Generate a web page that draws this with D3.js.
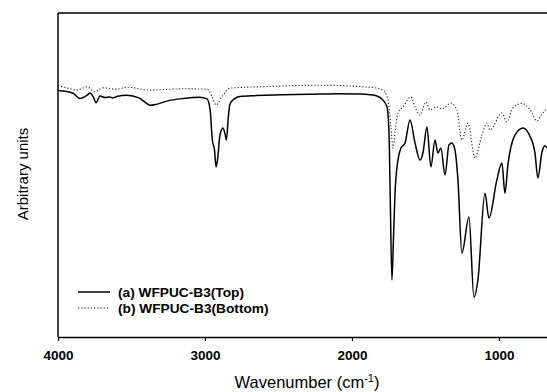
<!DOCTYPE html>
<html>
<head>
<meta charset="utf-8">
<script src="https://cdn.jsdelivr.net/npm/d3@7"></script>
<style>
  html, body { margin: 0; padding: 0; background: #fff; }
  svg { display: block; font-family: "Liberation Sans", Arial, sans-serif; }
</style>
</head>
<body>
<svg id="chart" width="547" height="392"></svg>
<script>
// FTIR spectra, wavenumber (cm-1) vs. arbitrary transmittance units
const topWavenumbers = [4000, 3900, 3850, 3800, 3782, 3760, 3741, 3714, 3680, 3650, 3626, 3600, 3531, 3450, 3400, 3374, 3330, 3259, 3150, 3034, 2986, 2965, 2950, 2935, 2925, 2915, 2898, 2878, 2862, 2855, 2840, 2830, 2800, 2762, 2650, 2490, 2300, 2100, 1950, 1878, 1830, 1789, 1762, 1748, 1740, 1728, 1718, 1707, 1687, 1667, 1639, 1605, 1571, 1537, 1517, 1490, 1463, 1435, 1415, 1395, 1367, 1340, 1320, 1299, 1279, 1252, 1204, 1170, 1143, 1095, 1068, 1014, 980, 959, 939, 891, 837, 789, 755, 735, 707, 687, 673];
const topValues = [76.1, 75.3, 73.6, 74.7, 75.3, 74.1, 72.3, 74.4, 73.9, 74.1, 73.8, 74.2, 74.6, 73.8, 72.2, 71.5, 71.8, 72.8, 73.6, 74.0, 73.5, 70.1, 60.8, 57.7, 52.5, 54.6, 62.3, 64.5, 62.3, 60.8, 68.5, 71.9, 73.5, 74.2, 74.5, 74.8, 74.9, 75.1, 75.0, 74.8, 74.4, 73.1, 71.1, 63.0, 44.4, 17.6, 29.9, 44.4, 54.6, 58.3, 59.9, 67.0, 59.9, 54.6, 56.8, 64.8, 52.5, 60.8, 56.8, 58.3, 50.0, 59.3, 59.9, 57.7, 48.5, 25.9, 37.0, 12.3, 17.6, 44.4, 36.7, 48.5, 53.7, 44.4, 53.1, 62.3, 64.5, 62.0, 56.8, 49.1, 57.1, 59.0, 58.3];

const bottomWavenumbers = [4000, 3939, 3871, 3803, 3748, 3694, 3599, 3531, 3374, 3150, 2986, 2952, 2925, 2884, 2830, 2578, 2218, 1878, 1789, 1755, 1735, 1721, 1707, 1687, 1653, 1599, 1571, 1537, 1497, 1469, 1422, 1388, 1327, 1286, 1252, 1211, 1163, 1116, 1082, 1061, 980, 946, 905, 844, 789, 741, 707, 673];
const bottomValues = [77.6, 76.9, 76.2, 77.2, 75.7, 76.9, 76.5, 77.1, 76.2, 76.6, 76.5, 74.2, 71.6, 74.2, 76.8, 77.3, 77.7, 77.1, 76.2, 73.1, 64.8, 58.3, 63.0, 69.1, 71.0, 74.1, 71.0, 68.5, 72.5, 70.1, 71.0, 70.4, 72.2, 70.1, 60.8, 66.0, 55.2, 62.3, 66.0, 63.9, 69.1, 66.4, 70.7, 72.1, 70.2, 66.7, 68.8, 70.7];

const xTicks = [4000, 3000, 2000, 1000];
const seriesNames = ["(a) WFPUC-B3(Top)", "(b) WFPUC-B3(Bottom)"];

const svg = d3.select("#chart");
const plotLeft = 58, plotRight = 547, plotTop = 13, plotBottom = 337;

const x = d3.scaleLinear().domain([4000, 673]).range([plotLeft, plotRight]);
const y = d3.scaleLinear().domain([0, 100]).range([plotBottom, plotTop]);

const line = d3.line()
  .x(d => x(d[0]))
  .y(d => y(d[1]))
  .curve(d3.curveMonotoneX);

const topSeries = topWavenumbers.map((w, i) => [w, topValues[i]]);
const bottomSeries = bottomWavenumbers.map((w, i) => [w, bottomValues[i]]);

// frame: top border and left axis line
svg.append("line")
  .attr("x1", plotLeft).attr("x2", plotRight).attr("y1", plotTop).attr("y2", plotTop)
  .attr("stroke", "#000").attr("stroke-width", 1.5);
svg.append("line")
  .attr("x1", plotLeft).attr("x2", plotLeft).attr("y1", plotTop).attr("y2", plotBottom)
  .attr("stroke", "#000").attr("stroke-width", 1.5);

// bottom axis
const xAxis = d3.axisBottom(x)
  .tickValues(xTicks)
  .tickSize(4)
  .tickPadding(9)
  .tickSizeOuter(0)
  .tickFormat(d3.format("d"));

const gx = svg.append("g")
  .attr("transform", `translate(0,${plotBottom})`)
  .call(xAxis);
gx.select(".domain").attr("stroke", "#000").attr("stroke-width", 1.5);
gx.selectAll(".tick line").attr("stroke", "#000").attr("stroke-width", 1.2);
gx.selectAll(".tick text")
  .attr("fill", "#000")
  .attr("font-family", "'Liberation Sans', Arial, sans-serif")
  .attr("font-size", 13.5)
  .attr("font-weight", "bold");

// spectra
svg.append("path")
  .datum(bottomSeries)
  .attr("d", line)
  .attr("fill", "none")
  .attr("stroke", "#222")
  .attr("stroke-width", 1.1)
  .attr("stroke-dasharray", "1.2,2");

svg.append("path")
  .datum(topSeries)
  .attr("d", line)
  .attr("fill", "none")
  .attr("stroke", "#000")
  .attr("stroke-width", 1.5);

// axis titles
const title = svg.append("text")
  .attr("x", 307)
  .attr("y", 388)
  .attr("text-anchor", "middle")
  .attr("font-size", 16.5)
  .attr("fill", "#000");
title.append("tspan").text("Wavenumber (cm");
title.append("tspan").attr("dy", -6).attr("font-size", 11).text("-1");
title.append("tspan").attr("dy", 6).text(")");

svg.append("text")
  .attr("transform", "translate(28,174) rotate(-90)")
  .attr("text-anchor", "middle")
  .attr("font-size", 15)
  .attr("fill", "#000")
  .text("Arbitrary units");

// legend
const legend = svg.append("g").attr("transform", "translate(78,292)");
const legendRows = [
  { name: seriesNames[0], dash: null, width: 1.5 },
  { name: seriesNames[1], dash: "1.2,2", width: 1.1 }
];
legendRows.forEach((r, i) => {
  const g = legend.append("g").attr("transform", `translate(0,${i * 16})`);
  g.append("line")
    .attr("x1", 0).attr("x2", 32).attr("y1", 0).attr("y2", 0)
    .attr("stroke", "#000")
    .attr("stroke-width", r.width)
    .attr("stroke-dasharray", r.dash);
  g.append("text")
    .attr("x", 40).attr("y", 5)
    .attr("font-size", 13.7)
    .attr("font-weight", "bold")
    .attr("fill", "#000")
    .text(r.name);
});
</script>
</body>
</html>
